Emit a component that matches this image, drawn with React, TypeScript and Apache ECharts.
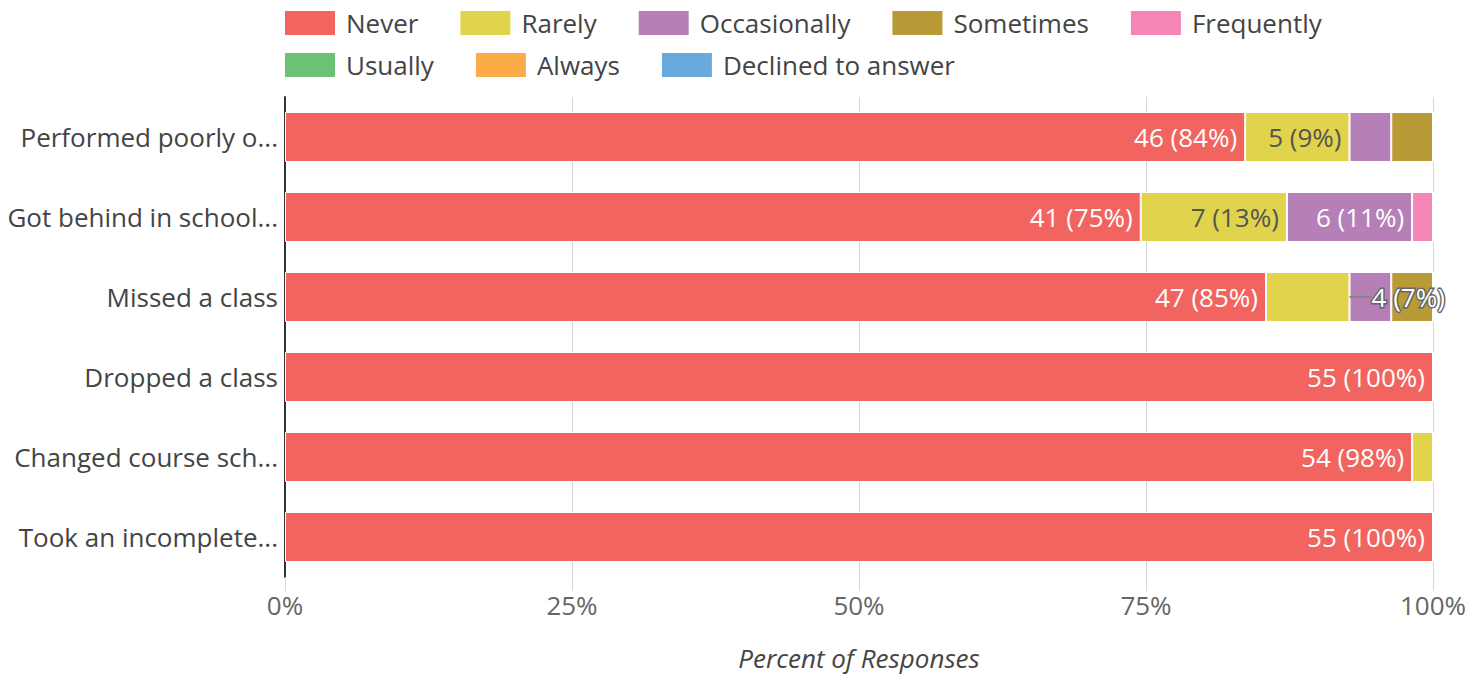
import React, { useEffect, useRef } from "react";
import * as echarts from "echarts";

const categories = [
  "Performed poorly o...",
  "Got behind in school...",
  "Missed a class",
  "Dropped a class",
  "Changed course sch...",
  "Took an incomplete...",
];

const seriesNames = ["Never", "Rarely", "Occasionally", "Sometimes", "Frequently", "Usually", "Always", "Declined to answer"];
const seriesColors = ["#f2645f", "#e1d34b", "#b77fb7", "#b89a36", "#f486b6", "#6bc274", "#fbab47", "#69aade"];

const never = [46, 41, 47, 55, 54, 55];
const rarely = [5, 7, 4, 0, 1, 0];
const occasionally = [2, 6, 2, 0, 0, 0];
const sometimes = [2, 0, 2, 0, 0, 0];
const frequently = [0, 1, 0, 0, 0, 0];
const usually = [0, 0, 0, 0, 0, 0];
const always = [0, 0, 0, 0, 0, 0];
const declined = [0, 0, 0, 0, 0, 0];

const xTicks = [0, 25, 50, 75, 100];

const FONT = "'Open Sans', 'Noto Sans', sans-serif";

export default function App() {
  const ref = useRef<HTMLDivElement>(null);
  useEffect(() => {
    if (!ref.current) return;
    const chart = echarts.init(ref.current, undefined, { renderer: "svg" });
    const counts = [never, rarely, occasionally, sometimes, frequently, usually, always, declined];
    const totals = categories.map((_, i) => counts.reduce((s, arr) => s + arr[i], 0));

    const series = seriesNames.map((name, si) => ({
      name,
      type: "bar",
      stack: "total",
      barWidth: 50,
      itemStyle: { color: seriesColors[si], borderColor: "#fff", borderWidth: 1 },
      data: counts[si].map((c, i) => ({
        value: (c / totals[i]) * 100,
        count: c,
        pct: Math.round((c / totals[i]) * 100),
        label: { show: c >= 5 },
      })),
      label: {
        position: "insideRight",
        distance: 8,
        fontFamily: FONT,
        fontSize: 26,
        color: si === 1 ? "#555" : "#fff",
        formatter: (p: any) =>
          p.data.outside
            ? `{line| }{txt|${p.data.count} (${p.data.pct}%)}`
            : `${p.data.count} (${p.data.pct}%)`,
        rich: {
          line: { width: 22, height: 2, fontSize: 2, lineHeight: 2, backgroundColor: "#858585" },
          txt: {
            fontFamily: FONT,
            fontSize: 26,
            color: "#fff",
            textBorderColor: "#666",
            textBorderWidth: 3,
          },
        },
      },
      emphasis: { disabled: true },
    }));

    // the narrow "Missed a class / Rarely" segment has its label outside with a leader line
    const moved = series[1].data[2] as any;
    moved.outside = true;
    moved.label = { show: true, position: "right", distance: 0 };

    const legendBase = {
      left: 283,
      itemWidth: 52,
      itemHeight: 26,
      itemGap: 40,
      padding: 0,
      icon: "rect",
      selectedMode: false,
      textStyle: { fontFamily: FONT, fontSize: 26, color: "#444", padding: [0, 0, 0, 5] },
    };

    chart.setOption({
      animation: false,
      textStyle: { fontFamily: FONT },
      legend: [
        { ...legendBase, top: 9, data: seriesNames.slice(0, 5) },
        { ...legendBase, top: 51, data: seriesNames.slice(5) },
      ],
      grid: { left: 285, right: 50, top: 97, bottom: 87, containLabel: false },
      xAxis: {
        type: "value",
        min: xTicks[0],
        max: xTicks[xTicks.length - 1],
        interval: 25,
        name: "Percent of Responses",
        nameLocation: "middle",
        nameGap: 68,
        nameTextStyle: { fontFamily: FONT, fontSize: 26, fontStyle: "italic", color: "#444" },
        axisLine: { show: false },
        axisTick: { show: true, length: 14, lineStyle: { color: "#d6d6d6" } },
        splitLine: { show: true, lineStyle: { color: "#d6d6d6", width: 1 } },
        axisLabel: {
          margin: 15,
          fontFamily: FONT,
          fontSize: 26,
          color: "#666",
          formatter: (v: number) => `${v}%`,
        },
      },
      yAxis: {
        type: "category",
        inverse: true,
        data: categories,
        axisLine: { show: true, lineStyle: { color: "#333", width: 2 } },
        axisTick: { show: false },
        axisLabel: { margin: 7, fontFamily: FONT, fontSize: 26, color: "#444" },
      },
      series,
    });
    return () => chart.dispose();
  }, []);
  return (
    <div
      ref={ref}
      style={{ position: "absolute", left: 0, top: 0, width: 1483, height: 676 }}
    />
  );
}
